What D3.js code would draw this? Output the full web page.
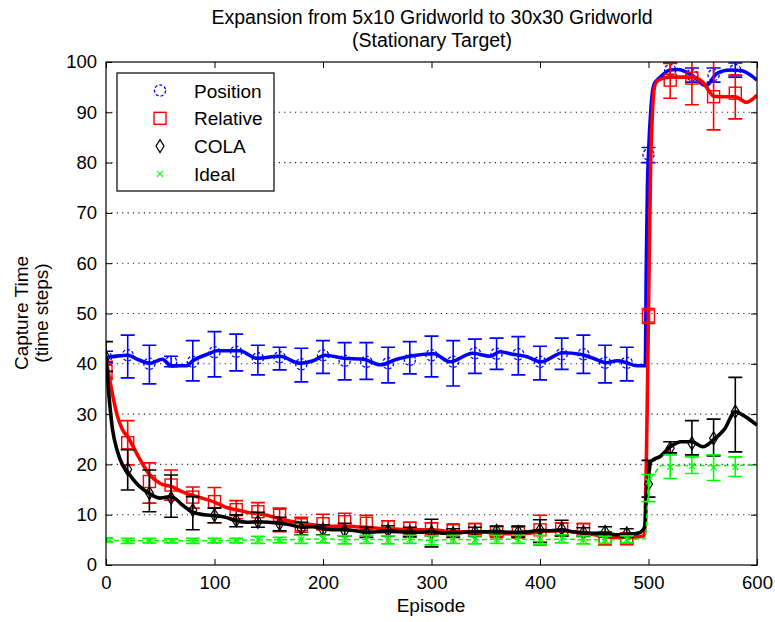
<!DOCTYPE html>
<html lang="en">
<head>
<meta charset="UTF-8">
<title>Expansion from 5x10 Gridworld to 30x30 Gridworld</title>
<script src="https://d3js.org/d3.v7.min.js"></script>
<style>
  body { margin: 0; background: #fff; }
  svg text { font-family: "Liberation Sans", Arial, sans-serif; fill: #000; }
</style>
</head>
<body>
<script>
// ---- data ----
// marker episodes (every 20)
const markerEpisodes = [0,20,40,60,80,100,120,140,160,180,200,220,240,260,280,300,320,340,360,380,400,420,440,460,480,500,520,540,560,580];

const positionMean = [41.3,41.7,40.0,40.4,40.4,42.3,42.4,41.1,41.3,39.9,41.7,40.6,40.4,40.1,40.8,41.7,40.4,42.1,42.0,41.9,40.4,41.9,41.9,40.2,40.2,81.6,98.4,97.4,97.4,98.4];
const positionLo   = [40.2,37.2,36.0,39.4,36.6,37.4,38.6,37.8,38.8,36.4,38.1,36.8,36.9,36.2,38.0,37.4,35.6,38.1,38.9,37.8,36.8,38.9,38.1,36.2,36.6,80.0,97.0,96.0,96.0,97.0];
const positionHi   = [42.5,45.7,43.7,41.5,44.6,46.4,45.9,43.7,43.3,43.1,44.6,44.2,44.2,43.3,44.4,45.5,44.6,44.9,45.1,45.4,43.5,45.1,45.7,43.7,43.3,83.0,99.8,98.8,98.8,99.8];

const relativeMean = [38.5,24.3,16.6,15.9,13.5,12.6,11.0,10.6,9.9,8.0,8.2,8.6,8.3,7.6,7.3,7.2,7.0,7.1,6.6,6.6,7.0,7.1,7.1,5.3,5.2,49.5,96.4,96.8,93.1,93.8];
const relativeLo   = [37.0,19.9,12.3,12.9,11.3,8.4,9.2,8.4,6.6,6.5,7.0,7.0,7.0,6.5,6.2,5.8,6.0,6.0,5.6,5.6,4.0,5.8,5.9,4.0,4.2,48.0,92.8,91.5,86.5,88.7];
const relativeHi   = [40.5,28.7,20.3,18.9,15.5,15.4,12.8,12.4,11.3,9.5,10.1,10.3,9.9,8.8,8.5,8.4,8.0,8.2,7.6,7.5,9.9,8.4,8.2,6.6,6.4,51.0,99.7,102,101,97.4];

const colaMean = [41.3,19.0,14.3,13.3,10.9,9.9,8.9,8.6,8.2,7.2,7.0,6.8,6.4,6.8,6.5,6.5,6.3,6.6,6.8,6.6,7.0,7.2,6.5,6.6,6.3,16.1,23.2,24.2,25.2,30.5];
const colaLo   = [38.5,14.9,10.6,9.5,7.0,8.4,7.6,7.5,6.8,6.0,6.0,5.8,5.5,5.8,5.6,3.6,5.5,5.7,5.9,5.5,4.5,5.8,5.7,5.6,5.5,13.5,22.3,21.9,21.7,22.5];
const colaHi   = [44.4,22.9,18.9,17.9,13.6,11.3,10.0,10.5,9.5,8.5,8.0,8.3,7.5,7.8,7.5,9.1,7.2,7.5,7.7,7.7,9.0,8.9,7.4,7.6,7.2,20.8,24.5,28.7,29.0,37.3];

const idealMean = [5.0,4.8,4.8,4.8,4.8,4.8,4.9,5.0,5.0,5.1,5.2,5.0,5.1,5.0,5.1,4.9,5.1,5.0,5.1,5.1,5.0,5.2,5.0,5.0,5.1,16.6,19.5,19.7,19.4,19.5];
const idealLo   = [4.6,4.3,4.4,4.4,4.3,4.4,4.4,4.3,4.4,4.3,4.4,4.2,4.3,4.2,4.3,4.0,4.3,4.2,4.3,4.3,4.1,4.4,4.2,4.3,4.4,12.6,17.2,18.2,16.8,17.6];
const idealHi   = [5.4,5.3,5.3,5.2,5.3,5.3,5.3,5.7,5.5,5.9,5.9,5.8,5.9,5.8,5.9,5.8,5.9,5.8,5.9,5.9,5.9,6.0,5.8,5.7,5.8,18.0,21.9,21.5,21.9,21.5];

// smoothed curves [episode, value]
const positionCurve = [[0,41.3],[5,41.4],[20,41.7],[30,40.8],[40,40.1],[52,40.9],[60,39.6],[74,39.6],[80,40.6],[96,42.1],[102,42.6],[123,42.6],[139,41.1],[160,41.5],[179,40.1],[191,40.6],[202,41.7],[219,41.1],[237,40.9],[253,39.8],[268,40.9],[280,41.5],[302,42.0],[317,40.4],[338,42.1],[354,41.5],[363,42.4],[375,41.9],[388,41.4],[401,40.4],[421,42.2],[437,41.9],[449,41.1],[461,40.2],[471,40.6],[480,40.2],[489,39.6],[497,39.6],[498,60],[499,75],[500,81.6],[502,90],[505,95.5],[510,96.8],[520,98.4],[527,98.5],[540,97.4],[553,95.3],[563,97.7],[575,98.4],[585,98.3],[600,96.4]];
const relativeCurve = [[0,41],[5,35],[10,30],[15,27],[20,25.5],[30,21.5],[40,18],[50,16.2],[60,15.6],[70,14.6],[80,13.8],[90,13.2],[100,12.5],[110,11.5],[120,11.0],[130,10.5],[140,10.2],[150,9.8],[160,9.2],[170,8.7],[180,8.3],[190,8.0],[200,7.8],[210,7.7],[220,7.8],[230,7.6],[240,7.5],[250,7.3],[260,7.2],[270,7.1],[280,7.0],[290,7.0],[300,7.0],[310,6.8],[320,6.6],[330,6.6],[340,6.6],[350,6.5],[360,6.3],[370,6.2],[380,6.2],[390,6.3],[400,6.6],[410,6.8],[420,6.8],[430,6.6],[440,6.3],[450,6.0],[460,5.6],[470,5.5],[480,5.6],[490,5.6],[496,5.8],[498,20],[500,50],[502,80],[506,95.5],[510,96.5],[520,97],[540,97],[550,96],[555,94.5],[560,93.2],[570,93.1],[580,93.1],[590,92],[600,93.4]];
const colaCurve = [[0,41.3],[3,33],[6,27],[10,23],[15,20],[20,18.5],[25,17],[30,15.8],[40,14.2],[50,13.3],[60,13.6],[65,13.0],[70,12.0],[80,10.5],[90,10.0],[100,9.8],[110,9.5],[120,8.8],[130,8.5],[140,8.6],[150,8.5],[160,8.3],[170,8.0],[180,7.5],[190,7.6],[200,7.2],[210,7.0],[220,7.0],[230,6.8],[240,6.5],[250,6.6],[260,6.8],[270,6.6],[280,6.5],[290,6.5],[300,6.6],[310,6.3],[320,6.3],[330,6.5],[340,6.6],[350,6.6],[360,6.7],[370,6.5],[380,6.5],[390,6.6],[400,6.9],[410,6.8],[420,7.0],[430,6.6],[440,6.4],[450,6.3],[460,6.3],[470,6.0],[480,6.1],[490,6.3],[495,7.0],[497,8],[498,14],[500,17.5],[502,20.5],[505,21.0],[510,21.5],[520,23.5],[530,24.5],[540,24.5],[550,23.5],[560,24.9],[570,27],[580,30.5],[587,29.8],[600,27.8]];
const idealCurve = [[0,5.0],[20,4.8],[40,4.8],[60,4.8],[80,4.8],[100,4.8],[120,4.9],[140,5.0],[160,5.0],[180,5.1],[200,5.2],[220,5.0],[240,5.1],[260,5.0],[280,5.1],[300,4.9],[320,5.1],[340,5.0],[360,5.1],[380,5.1],[400,5.0],[420,5.2],[440,5.0],[460,5.0],[480,5.1],[497,5.2],[499,12],[500,16.6],[505,18],[512,19.8],[540,19.8],[580,19.8],[600,19.9]];

const xTicks = [0,100,200,300,400,500,600];
const yTicks = [0,10,20,30,40,50,60,70,80,90,100];
const gridValues = [10,20,30,40,50,60,70,80,90];
const legendLabels = ["Position","Relative","COLA","Ideal"];

// ---- layout ----
const width = 775, height = 622;
const x = d3.scaleLinear().domain([0, 600]).range([106, 757]);
const y = d3.scaleLinear().domain([0, 100]).range([565, 62]);

const svg = d3.select("body").append("svg")
  .attr("width", width).attr("height", height);

svg.append("rect").attr("width", width).attr("height", height).attr("fill", "#fff");

svg.append("clipPath").attr("id", "plotclip")
  .append("rect")
  .attr("x", x(0)).attr("y", y(100))
  .attr("width", x(600) - x(0)).attr("height", y(0) - y(100));

// dotted grid
svg.append("g").selectAll("line").data(gridValues).join("line")
  .attr("x1", x(0)).attr("x2", x(600))
  .attr("y1", d => y(d)).attr("y2", d => y(d))
  .attr("stroke", "#222").attr("stroke-width", 1.1)
  .attr("stroke-dasharray", "1.2,4.2");

// axes, ticks inward on all four sides
const fs = 18.5;
svg.append("g").attr("transform", `translate(${x(0)},0)`)
  .call(d3.axisLeft(y).tickValues(yTicks).tickSizeInner(-6).tickSizeOuter(0).tickPadding(9))
  .call(g => g.select(".domain").remove())
  .call(g => g.selectAll("text").attr("font-size", fs).attr("font-family", null));
svg.append("g").attr("transform", `translate(${x(600)},0)`)
  .call(d3.axisRight(y).tickValues(yTicks).tickSizeInner(-6).tickSizeOuter(0).tickFormat(""))
  .call(g => g.select(".domain").remove());
svg.append("g").attr("transform", `translate(0,${y(0)})`)
  .call(d3.axisBottom(x).tickValues(xTicks).tickSizeInner(-6).tickSizeOuter(0).tickPadding(11))
  .call(g => g.select(".domain").remove())
  .call(g => g.selectAll("text").attr("font-size", fs).attr("font-family", null));
svg.append("g").attr("transform", `translate(0,${y(100)})`)
  .call(d3.axisTop(x).tickValues(xTicks).tickSizeInner(-6).tickSizeOuter(0).tickFormat(""))
  .call(g => g.select(".domain").remove());

svg.selectAll(".tick line").attr("stroke", "#000");

// ---- series ----
function markerPath(type, s) {
  if (type === "diamond") return `M0,${-s * 1.3}L${s * 0.8},0L0,${s * 1.3}L${-s * 0.8},0Z`;
  if (type === "x") return `M${-s * 0.6},${-s * 0.6}L${s * 0.6},${s * 0.6}M${-s * 0.6},${s * 0.6}L${s * 0.6},${-s * 0.6}`;
  return null;
}

function drawMarker(g, type, color) {
  if (type === "circle") {
    g.append("circle").attr("r", 5.6).attr("fill", "none").attr("stroke", color)
      .attr("stroke-width", 1.3).attr("stroke-dasharray", "3,2");
  } else if (type === "square") {
    g.append("rect").attr("x", -6).attr("y", -6).attr("width", 12).attr("height", 12)
      .attr("fill", "none").attr("stroke", color).attr("stroke-width", 1.4);
  } else {
    g.append("path").attr("d", markerPath(type, 5)).attr("fill", "none")
      .attr("stroke", color).attr("stroke-width", 1.2);
  }
}

const series = [
  { name: "Position", color: "#0000ff", marker: "circle", curve: positionCurve, mean: positionMean, lo: positionLo, hi: positionHi, thick: true },
  { name: "Relative", color: "#ff0000", marker: "square", curve: relativeCurve, mean: relativeMean, lo: relativeLo, hi: relativeHi, thick: true },
  { name: "COLA", color: "#000000", marker: "diamond", curve: colaCurve, mean: colaMean, lo: colaLo, hi: colaHi, thick: true },
  { name: "Ideal", color: "#00ff00", marker: "x", curve: idealCurve, mean: idealMean, lo: idealLo, hi: idealHi, thick: false }
];

const plot = svg.append("g").attr("clip-path", "url(#plotclip)");
const line = d3.line().x(d => x(d[0])).y(d => y(d[1])).curve(d3.curveMonotoneX);
const cap = 7;

series.forEach(s => {
  const g = plot.append("g");
  g.append("path").datum(s.curve).attr("d", line)
    .attr("fill", "none").attr("stroke", s.color)
    .attr("stroke-width", s.thick ? 3.6 : 1.5)
    .attr("stroke-dasharray", s.thick ? null : "5,3")
    .attr("stroke-linejoin", "round");

  const pts = markerEpisodes.map((e, i) => ({ e, m: s.mean[i], lo: s.lo[i], hi: s.hi[i] }));
  const eb = g.append("g").attr("stroke", s.color).attr("stroke-width", 1.6).attr("fill", "none");
  pts.forEach(p => {
    const px = x(p.e);
    eb.append("path").attr("d",
      `M${px},${y(p.lo)}V${y(p.hi)}` +
      `M${px - cap},${y(p.lo)}H${px + cap}` +
      `M${px - cap},${y(p.hi)}H${px + cap}`);
  });
  pts.forEach(p => {
    drawMarker(g.append("g").attr("transform", `translate(${x(p.e)},${y(p.m)})`), s.marker, s.color);
  });
});

// axes box
svg.append("rect")
  .attr("x", x(0)).attr("y", y(100))
  .attr("width", x(600) - x(0)).attr("height", y(0) - y(100))
  .attr("fill", "none").attr("stroke", "#000").attr("stroke-width", 1.2);

// ---- legend ----
const leg = svg.append("g");
leg.append("rect").attr("x", 117).attr("y", 73).attr("width", 157).attr("height", 118)
  .attr("fill", "#fff").attr("stroke", "#000").attr("stroke-width", 1.2);
series.forEach((s, i) => {
  const cy = 90.5 + i * 27.8;
  drawMarker(leg.append("g").attr("transform", `translate(160,${cy})`), s.marker, s.color);
  leg.append("text").attr("x", 194).attr("y", cy + 7).attr("font-size", 19).text(legendLabels[i]);
});

// ---- titles ----
svg.append("text").attr("x", 432).attr("y", 24).attr("text-anchor", "middle")
  .attr("font-size", 19.5).text("Expansion from 5x10 Gridworld to 30x30 Gridworld");
svg.append("text").attr("x", 432).attr("y", 47).attr("text-anchor", "middle")
  .attr("font-size", 19.5).text("(Stationary Target)");

svg.append("text").attr("x", 431).attr("y", 612).attr("text-anchor", "middle")
  .attr("font-size", 19).text("Episode");

svg.append("text").attr("transform", "translate(28,313) rotate(-90)")
  .attr("text-anchor", "middle").attr("font-size", 19).text("Capture Time");
svg.append("text").attr("transform", "translate(48,313) rotate(-90)")
  .attr("text-anchor", "middle").attr("font-size", 19).text("(time steps)");
</script>
</body>
</html>
